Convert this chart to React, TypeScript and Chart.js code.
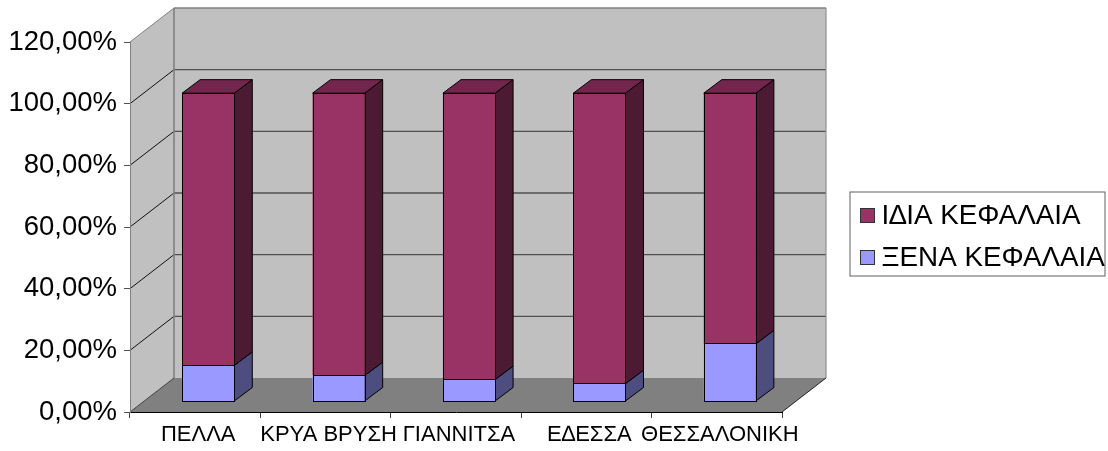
import React, { useEffect, useRef } from "react";
import { Chart, registerables } from "chart.js";

Chart.register(...registerables);

const categories = ["ΠΕΛΛΑ", "ΚΡΥΑ ΒΡΥΣΗ", "ΓΙΑΝΝΙΤΣΑ", "Ε∆ΕΣΣΑ", "ΘΕΣΣΑΛΟΝΙΚΗ"];
const xenaLabel = "ΞΕΝΑ ΚΕΦΑΛΑΙΑ";
const idiaLabel = "Ι∆ΙΑ ΚΕΦΑΛΑΙΑ";
const xenaValues = [11.7, 8.4, 7.1, 5.8, 18.7];
const idiaValues = [88.3, 91.6, 92.9, 94.2, 81.3];
const legendOrder = [1, 0];

const FONT = '"Liberation Sans", Arial, sans-serif';
const WALL = { dx: 44, dy: -34 };
const BAR_FRONT = { dx: 13, dy: -10.5 };
const BAR_DEPTH = { dx: 18, dy: -13.5 };

const poly = (ctx: any, pts: number[][], fill: string, stroke?: string, lw = 1) => {
  ctx.beginPath();
  pts.forEach((p, i) => (i ? ctx.lineTo(p[0], p[1]) : ctx.moveTo(p[0], p[1])));
  ctx.closePath();
  ctx.fillStyle = fill;
  ctx.fill();
  if (stroke) {
    ctx.strokeStyle = stroke;
    ctx.lineWidth = lw;
    ctx.stroke();
  }
};

const line = (ctx: any, x0: number, y0: number, x1: number, y1: number, color: string, lw = 1) => {
  ctx.beginPath();
  ctx.moveTo(x0, y0);
  ctx.lineTo(x1, y1);
  ctx.strokeStyle = color;
  ctx.lineWidth = lw;
  ctx.stroke();
};

const threeD = {
  id: "threeD",
  beforeDraw(chart: any) {
    const { ctx, scales } = chart;
    const x = scales.x;
    const y = scales.y;
    const L = x.left;
    const R = x.right;
    const B = y.bottom;
    const T = y.top;
    const { dx, dy } = WALL;
    ctx.save();
    poly(ctx, [[L, T], [L + dx, T + dy], [L + dx, B + dy], [L, B]], "#c0c0c0");
    poly(ctx, [[L + dx, T + dy], [R + dx, T + dy], [R + dx, B + dy], [L + dx, B + dy]], "#c0c0c0");
    poly(ctx, [[L, B], [R, B], [R + dx, B + dy], [L + dx, B + dy]], "#808080");
    y.ticks.forEach((t: any) => {
      const py = y.getPixelForValue(t.value);
      const isTop = t.value === y.max;
      if (t.value !== y.min) {
        line(ctx, L, py, L + dx, py + dy, isTop ? "#808080" : "#111111");
        line(ctx, L + dx, py + dy, R + dx, py + dy, isTop ? "#808080" : "#505050", isTop ? 1.6 : 1.4);
      }
    });
    line(ctx, L + dx, T + dy, L + dx, B + dy, "#808080", 1.6);
    line(ctx, R + dx, T + dy, R + dx, B + dy, "#909090", 1.2);
    line(ctx, R, B, R + dx, B + dy, "#222222");
    line(ctx, L, B, L + dx, B + dy, "#404040");
    ctx.fillStyle = "#ffffff";
    ctx.fillRect(850, 192, 255, 84);
    ctx.strokeStyle = "#606060";
    ctx.lineWidth = 1;
    ctx.strokeRect(850, 192, 255, 84);
    ctx.font = `27.8px ${FONT}`;
    ctx.textAlign = "left";
    ctx.textBaseline = "alphabetic";
    legendOrder.forEach((di, i) => {
      const ds = chart.data.datasets[di];
      const top = 208 + i * 42;
      ctx.fillStyle = ds.backgroundColor;
      ctx.fillRect(860.5, top + 0.5, 14, 14);
      ctx.strokeStyle = "#333333";
      ctx.lineWidth = 1;
      ctx.strokeRect(860.5, top + 0.5, 14, 14);
      ctx.fillStyle = "#000000";
      ctx.fillText(ds.label, 881.5, top + 15.5);
    });
    ctx.restore();
  },
  beforeDatasetsDraw(chart: any) {
    const { ctx } = chart;
    ctx.save();
    ctx.translate(BAR_FRONT.dx, BAR_FRONT.dy);
    const { dx, dy } = BAR_DEPTH;
    chart.data.datasets.forEach((ds: any, di: number) => {
      const meta = chart.getDatasetMeta(di);
      meta.data.forEach((bar: any) => {
        const l = bar.x - bar.width / 2;
        const r = bar.x + bar.width / 2;
        poly(ctx, [[r, bar.y], [r + dx, bar.y + dy], [r + dx, bar.base + dy], [r, bar.base]], ds.sideColor, "#000000");
        if (di === chart.data.datasets.length - 1) {
          poly(ctx, [[l, bar.y], [l + dx, bar.y + dy], [r + dx, bar.y + dy], [r, bar.y]], ds.topColor, "#000000");
        }
      });
    });
  },
  afterDatasetsDraw(chart: any) {
    const { ctx } = chart;
    // crisp outline over each bar's front face, snapped to the device pixel holding each edge
    chart.data.datasets.forEach((_: any, di: number) => {
      chart.getDatasetMeta(di).data.forEach((bar: any) => {
        const l = Math.round(bar.x - bar.width / 2) + 0.5;
        const r = Math.round(bar.x + bar.width / 2) + 0.5;
        const t = Math.floor(bar.y + BAR_FRONT.dy) - BAR_FRONT.dy + 0.5;
        const b = Math.floor(bar.base + BAR_FRONT.dy) - BAR_FRONT.dy + 0.5;
        ctx.strokeStyle = "#000000";
        ctx.lineWidth = 1;
        ctx.strokeRect(l, t, r - l, b - t);
      });
    });
    ctx.restore();
  },
};

export default function App() {
  const ref = useRef<HTMLCanvasElement>(null);
  useEffect(() => {
    const chart = new Chart(ref.current as HTMLCanvasElement, {
      type: "bar",
      data: {
        labels: categories,
        datasets: [
          {
            label: xenaLabel,
            data: xenaValues,
            backgroundColor: "#9999ff",
            sideColor: "#4d4d80",
            topColor: "#7373bf",
            borderColor: "#000000",
            borderWidth: 0,
            borderSkipped: false,
            clip: false,
            categoryPercentage: 1,
            barPercentage: 0.4,
          },
          {
            label: idiaLabel,
            data: idiaValues,
            backgroundColor: "#993366",
            sideColor: "#4d1a33",
            topColor: "#73264d",
            borderColor: "#000000",
            borderWidth: 0,
            borderSkipped: false,
            clip: false,
            categoryPercentage: 1,
            barPercentage: 0.4,
          },
        ] as any,
      },
      options: {
        responsive: false,
        animation: false,
        devicePixelRatio: 1,
        layout: { padding: { left: 0, top: 42, right: 326, bottom: 0 } },
        plugins: { legend: { display: false }, tooltip: { enabled: false }, title: { display: false } },
        scales: {
          x: {
            stacked: true,
            afterFit: (s: any) => {
              s.height = 39;
            },
            grid: { drawOnChartArea: false, drawTicks: true, tickLength: 6, tickColor: "#404040", offset: true },
            border: { display: true, color: "#000000", width: 1 },
            ticks: {
              color: "#000000",
              font: { family: FONT, size: 22 },
              padding: 4,
              labelOffset: 3,
              autoSkip: false,
              maxRotation: 0,
              minRotation: 0,
            },
          },
          y: {
            stacked: true,
            min: 0,
            max: 120,
            afterFit: (s: any) => {
              s.width = 130;
            },
            grid: { drawOnChartArea: false, drawTicks: true, tickLength: 6, tickColor: "#505050" },
            border: { display: true, color: "#808080", width: 1 },
            ticks: {
              stepSize: 20,
              color: "#000000",
              font: { family: FONT, size: 27.5 },
              padding: 7,
              callback: (v: any) => Number(v).toFixed(2).replace(".", ",") + "%",
            },
          },
        },
      },
      plugins: [threeD],
    } as any);
    return () => chart.destroy();
  }, []);
  return (
    <canvas
      ref={ref}
      width={1108}
      height={451}
      style={{ position: "fixed", left: 0, top: 0, width: 1108, height: 451, display: "block" }}
    />
  );
}
